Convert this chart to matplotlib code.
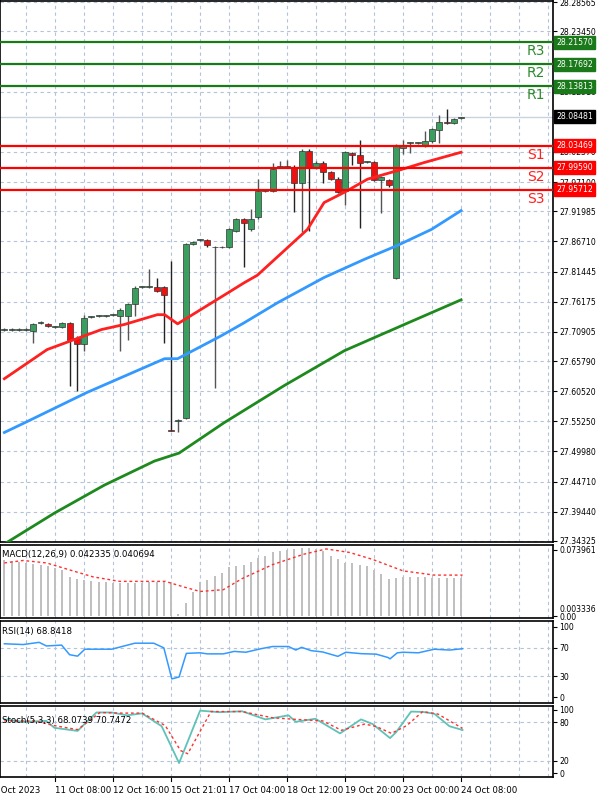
import numpy as np
import matplotlib.pyplot as plt

# 4h candles (open, high, low, close)
opens = [27.713, 27.713, 27.713, 27.713, 27.711, 27.724, 27.722, 27.718, 27.718, 27.725,
         27.699, 27.687, 27.735, 27.737, 27.737, 27.739, 27.737, 27.737, 27.757, 27.788,
         27.788, 27.788, 27.788, 27.537, 27.553, 27.559, 27.862, 27.870, 27.870, 27.857,
         27.857, 27.857, 27.886, 27.906, 27.888, 27.909, 27.955, 27.955, 27.998, 27.997,
         27.998, 27.969, 28.026, 27.995, 28.005, 27.988, 27.977, 27.956, 28.021, 28.018,
         28.006, 28.006, 27.975, 27.974, 27.804, 28.030, 28.039, 28.039, 28.035, 28.042,
         28.062, 28.076, 28.074, 28.083]
highs = [27.715, 27.715, 27.715, 27.715, 27.725, 27.728, 27.724, 27.720, 27.727, 27.727,
         27.701, 27.739, 27.737, 27.739, 27.739, 27.741, 27.750, 27.759, 27.790, 27.790,
         27.818, 27.804, 27.790, 27.832, 27.557, 27.865, 27.868, 27.872, 27.872, 27.859,
         27.859, 27.890, 27.908, 27.908, 27.923, 27.977, 27.959, 28.005, 28.007, 28.009,
         28.000, 28.028, 28.028, 28.007, 28.007, 27.990, 27.979, 28.025, 28.023, 28.044,
         28.008, 28.008, 27.981, 27.976, 28.037, 28.044, 28.041, 28.041, 28.060, 28.065,
         28.088, 28.098, 28.083, 28.085]
lows = [27.711, 27.711, 27.711, 27.711, 27.690, 27.722, 27.717, 27.716, 27.716, 27.615,
        27.606, 27.676, 27.733, 27.735, 27.735, 27.737, 27.676, 27.694, 27.737, 27.786,
        27.786, 27.779, 27.690, 27.535, 27.533, 27.557, 27.860, 27.868, 27.858, 27.611,
        27.855, 27.855, 27.884, 27.823, 27.886, 27.907, 27.953, 27.953, 27.996, 27.995,
        27.918, 27.883, 27.886, 27.993, 27.970, 27.975, 27.951, 27.930, 28.000, 27.890,
        28.004, 27.973, 27.916, 27.963, 27.802, 28.020, 28.021, 28.037, 28.033, 28.040,
        28.040, 28.072, 28.072, 28.081]
closes = [27.713, 27.713, 27.713, 27.713, 27.723, 27.726, 27.719, 27.718, 27.725, 27.694,
          27.687, 27.734, 27.735, 27.737, 27.737, 27.739, 27.748, 27.757, 27.785, 27.788,
          27.788, 27.781, 27.773, 27.536, 27.554, 27.862, 27.866, 27.870, 27.860, 27.857,
          27.857, 27.888, 27.906, 27.900, 27.907, 27.956, 27.957, 27.993, 27.998, 27.997,
          27.969, 28.026, 27.997, 28.005, 27.988, 27.977, 27.953, 28.023, 28.018, 28.005,
          28.006, 27.975, 27.979, 27.965, 28.035, 28.035, 28.039, 28.039, 28.042, 28.063,
          28.076, 28.074, 28.081, 28.084]

ma_red_x = [0, 5.9, 13.4, 16.6, 21.1, 22.1, 23.9, 30.3, 33.1, 34.9, 41.8, 44.1, 46.9, 50.1, 54.8, 57.9, 63]
ma_red_y = [27.627, 27.678, 27.713, 27.722, 27.739, 27.739, 27.723, 27.773, 27.795, 27.808,
            27.888, 27.935, 27.953, 27.976, 27.993, 28.005, 28.023]
ma_blue_x = [0, 2.8, 11.4, 22.1, 23.9, 29.9, 33.1, 37.7, 44.1, 49.7, 54.2, 58.9, 63]
ma_blue_y = [27.533, 27.550, 27.603, 27.662, 27.662, 27.702, 27.725, 27.760, 27.804, 27.836,
             27.860, 27.888, 27.921]
ma_green_x = [0, 6.9, 13.8, 20.7, 24.1, 30.3, 38.6, 46.9, 55.2, 63]
ma_green_y = [27.338, 27.392, 27.441, 27.483, 27.497, 27.550, 27.615, 27.676, 27.722, 27.765]

resist = [("R1", 28.13813), ("R2", 28.17692), ("R3", 28.21570)]
support = [("S1", 28.03469), ("S2", 27.99590), ("S3", 27.95712)]
last_price = 28.08481
price_ticks = [28.28565, 28.23450, 28.12910, 28.02370, 27.97100, 27.91985, 27.86710,
               27.81445, 27.76175, 27.70905, 27.65790, 27.60520, 27.55250, 27.49980,
               27.44710, 27.39440, 27.34325]

macd_hist = [0.0622, 0.0615, 0.0607, 0.0595, 0.0584, 0.0568, 0.0556, 0.0537, 0.0517, 0.0440,
             0.0420, 0.0401, 0.0389, 0.0381, 0.0381, 0.0374, 0.0370, 0.0370, 0.0370, 0.0370,
             0.0381, 0.0381, 0.0381, 0.0381, 0.0020, 0.0148, 0.0265, 0.0381, 0.0401, 0.0451,
             0.0479, 0.0545, 0.0556, 0.0576, 0.0607, 0.0646, 0.0673, 0.0712, 0.0731, 0.0739,
             0.0751, 0.0759, 0.0759, 0.0751, 0.0731, 0.0673, 0.0634, 0.0595, 0.0595, 0.0576,
             0.0556, 0.0517, 0.0467, 0.0420, 0.0428, 0.0440, 0.0440, 0.0440, 0.0436, 0.0432,
             0.0432, 0.0432, 0.0432, 0.0423]
macd_sig_x = [0, 2.6, 5.8, 9.0, 12.2, 15.9, 22.2, 24.9, 27.0, 30.2, 32.8, 37.0, 41.3, 44.4,
              47.6, 50.8, 55.0, 59.3, 63.2]
macd_sig_y = [0.0595, 0.0622, 0.0595, 0.0517, 0.0440, 0.0389, 0.0389, 0.0323, 0.0276, 0.0296,
              0.0420, 0.0576, 0.0692, 0.0751, 0.0712, 0.0634, 0.0506, 0.0459, 0.0459]

rsi_x = [0, 2.6, 4.8, 5.8, 7.9, 9.0, 10.1, 11.1, 14.8, 18.0, 20.6, 22.0, 23.1, 24.1, 25.1,
         27.0, 28.0, 30.2, 31.7, 33.3, 35.4, 37.0, 39.2, 40.2, 41.0, 42.3, 43.9, 46.0, 47.1,
         49.2, 51.3, 52.9, 53.2, 54.2, 55.0, 57.1, 59.3, 61.4, 63.2]
rsi_y = [75.8, 74.7, 77.8, 72.7, 73.9, 60.3, 58.3, 68.1, 68.1, 76.6, 76.6, 70.0, 26.1, 28.8,
         62.2, 63.0, 61.5, 61.5, 65.0, 63.8, 68.8, 71.9, 71.9, 66.9, 70.8, 66.1, 64.2, 58.0,
         63.8, 61.8, 61.1, 56.4, 54.5, 63.0, 63.8, 63.0, 68.1, 66.9, 68.8]

st_x = [0, 2.6, 5.8, 6.9, 10.1, 12.7, 14.8, 16.9, 19.0, 21.7, 24.1, 27.0, 29.6, 32.8, 36.0,
        39.2, 40.2, 42.9, 46.3, 49.2, 50.8, 53.2, 54.0, 56.1, 57.7, 59.3, 61.4, 63.2]
st_k = [84.9, 81.0, 82.5, 71.6, 66.7, 95.8, 95.8, 91.3, 94.3, 74.1, 16.0, 98.7, 96.3, 97.7,
        84.9, 91.3, 81.0, 85.9, 62.8, 84.9, 77.5, 55.4, 64.2, 97.2, 96.7, 93.8, 74.1, 68.1]
sd_x = [0, 4.2, 6.9, 10.1, 13.2, 15.9, 19.0, 22.2, 24.3, 25.3, 28.5, 32.8, 37.0, 40.2, 43.9,
        46.5, 49.7, 51.3, 53.4, 55.5, 57.7, 59.8, 63.2]
st_d = [82.5, 82.5, 75.1, 68.7, 95.8, 94.8, 94.8, 75.1, 35.7, 30.7, 97.2, 97.2, 87.4, 84.9,
        82.5, 67.7, 77.5, 73.6, 62.8, 75.1, 97.2, 93.3, 70.7]

xlabels = ["10 Oct 2023", "11 Oct 08:00", "12 Oct 16:00", "15 Oct 21:01", "17 Oct 04:00",
           "18 Oct 12:00", "19 Oct 20:00", "23 Oct 00:00", "24 Oct 08:00"]
xlabel_pos = [-2.4, 7, 15, 23, 31, 39, 47, 55, 63]

W, H = 600, 796
fig = plt.figure(figsize=(6, 7.96), dpi=100)
right = 553 / W
xlim = (-0.6, 553 / 7.25 - 0.6)
gridkw = dict(color="#b4c3d9", linestyle=(0, (3, 3)), linewidth=0.8)
fs = 5.6

def panel(top_px, bot_px):
    ax = fig.add_axes([0, 1 - bot_px / H, right, (bot_px - top_px) / H])
    ax.set_xlim(*xlim)
    ax.set_xticks([])
    ax.yaxis.tick_right()
    ax.tick_params(axis="y", labelsize=fs, length=3, pad=1.5)
    for s in ax.spines.values():
        s.set_linewidth(1.2)
    for v in np.arange(3, 80, 4):
        ax.axvline(v, **gridkw, zorder=0)
    return ax

def tag(ax, val, bg):
    ax.text(1.006, val, f"{val:.5f}", transform=ax.get_yaxis_transform(), fontsize=fs,
            color="white", va="center", ha="left", clip_on=False, zorder=10,
            bbox=dict(boxstyle="square,pad=0.25", fc=bg, ec=bg))

# main price panel
ax = panel(1, 542)
ax.set_ylim(27.3415, 28.2875)
ax.set_yticks(price_ticks)
ax.set_yticklabels([f"{t:.5f}" for t in price_ticks])
for t in price_ticks:
    ax.axhline(t, **gridkw, zorder=0)

for i in range(len(opens)):
    up = closes[i] >= opens[i]
    ax.vlines(i, lows[i], highs[i], color="#555555" if up else "#222222", linewidth=1, zorder=2)
    lo, hi = min(opens[i], closes[i]), max(opens[i], closes[i])
    ax.bar(i, max(hi - lo, 0.0012), bottom=lo, width=0.8,
           color="#3a9e5f" if up else "#ee1111", edgecolor="#333333", linewidth=0.5, zorder=3)

ax.plot(ma_green_x, ma_green_y, color="#1e8a1e", linewidth=2, zorder=4)
ax.plot(ma_blue_x, ma_blue_y, color="#3399ff", linewidth=2, zorder=4)
ax.plot(ma_red_x, ma_red_y, color="#ff2020", linewidth=2, zorder=4)

ax.axhline(last_price, color="#c8d2e0", linewidth=1, zorder=1)
tag(ax, last_price, "black")
for name, val in resist:
    ax.axhline(val, color="#1a7a1a", linewidth=1.6, zorder=5)
    ax.text(73.3, val - 0.0035, name, fontsize=10, color="#2e8b2e", va="top", ha="center")
    tag(ax, val, "#1a7a1a")
for name, val in support:
    ax.axhline(val, color="#ff0000", linewidth=1.6, zorder=5)
    ax.text(73.3, val - 0.0035, name, fontsize=10, color="#ff2020", va="top", ha="center")
    tag(ax, val, "#ff0000")

# MACD
ax2 = panel(545, 618)
ax2.set_ylim(-0.002, 0.0795)
ax2.set_yticks([0.073961, 0.0])
ax2.set_yticklabels(["0.073961", "0.00"])
ax2.bar(range(len(macd_hist)), macd_hist, width=0.25, color="#c0c0c0", zorder=2)
ax2.plot(macd_sig_x, macd_sig_y, color="#ff3030", linestyle=(0, (2, 2)), linewidth=1, zorder=3)
ax2.text(0.003, 0.93, "MACD(12,26,9) 0.042335 0.040694", transform=ax2.transAxes,
         fontsize=fs + 0.6, va="top", ha="left")
ax2.text(1.012, 0.12, "0.003336", transform=ax2.transAxes, fontsize=fs, va="center")

# RSI
ax3 = panel(621, 703)
ax3.set_ylim(-8, 108)
ax3.set_yticks([100, 70, 30, 0])
ax3.axhline(70, **gridkw)
ax3.axhline(30, **gridkw)
ax3.plot(rsi_x, rsi_y, color="#3399ff", linewidth=1.1)
ax3.text(0.003, 0.93, "RSI(14) 68.8418", transform=ax3.transAxes, fontsize=fs + 0.6, va="top")

# Stochastic
ax4 = panel(706, 777)
ax4.set_ylim(-6, 106)
ax4.set_yticks([100, 80, 20, 0])
ax4.axhline(80, **gridkw)
ax4.axhline(20, **gridkw)
ax4.plot(st_x, st_k, color="#5fc2b8", linewidth=1.3)
ax4.plot(sd_x, st_d, color="#ff3030", linestyle=(0, (2, 2)), linewidth=1)
ax4.text(0.003, 0.86, "Stoch(5,3,3) 68.0739 70.7472", transform=ax4.transAxes,
         fontsize=fs + 0.6, va="top")

for lab, p in zip(xlabels, xlabel_pos):
    ax4.text(p, -0.12, lab, transform=ax4.get_xaxis_transform(), fontsize=6.2,
             va="top", ha="left", clip_on=False)
for p in xlabel_pos[1:]:
    ax4.plot([p, p], [-0.02, -0.06], transform=ax4.get_xaxis_transform(), color="black",
             linewidth=0.8, clip_on=False)

fig.savefig("out.png", dpi=100)
